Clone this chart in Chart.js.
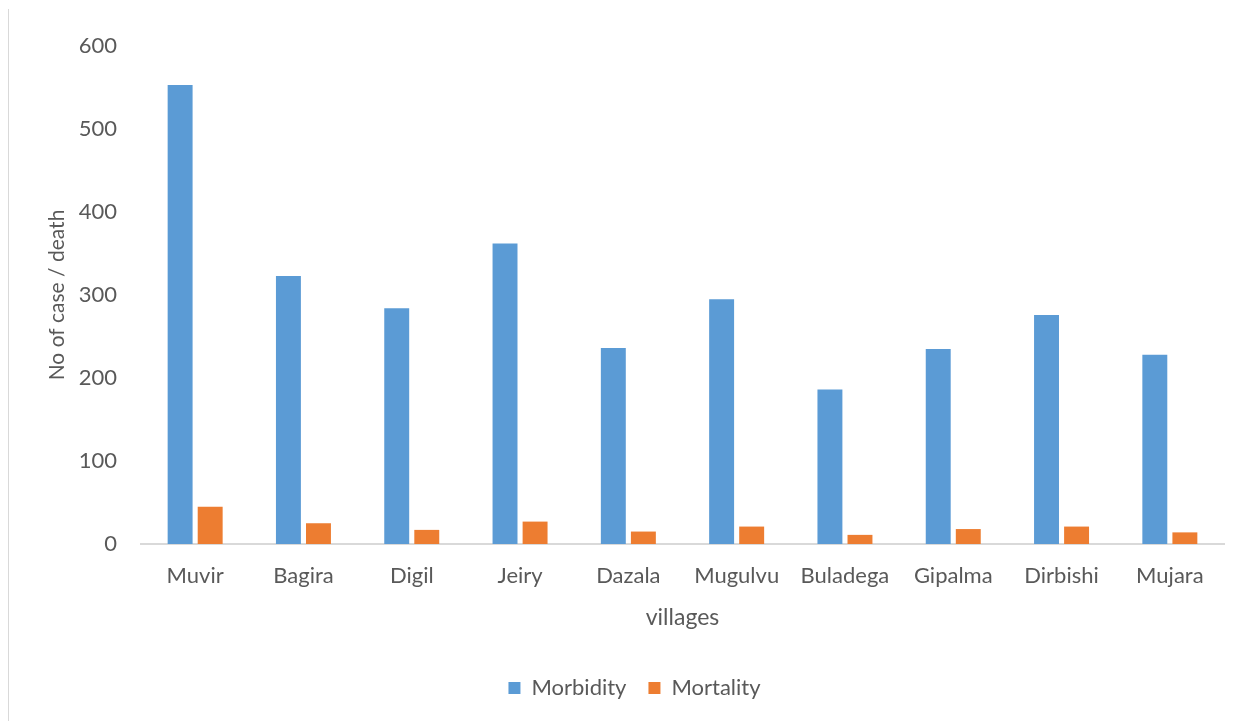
<!DOCTYPE html>
<html>
<head>
<meta charset="utf-8">
<script src="https://cdn.jsdelivr.net/npm/chart.js@4/dist/chart.umd.min.js"></script>
<style>
  html, body { margin: 0; padding: 0; background: #fff; }
  #wrap { position: relative; width: 1248px; height: 721px; }
  #frame { position: absolute; left: 8px; top: 9px; bottom: 0; border-left: 1px solid #d9d9d9; }
</style>
</head>
<body>
<div id="wrap">
  <div id="frame"></div>
  <canvas id="myChart" width="1248" height="721"></canvas>
</div>
<script>
const villages = ['Muvir', 'Bagira', 'Digil', 'Jeiry', 'Dazala', 'Mugulvu', 'Buladega', 'Gipalma', 'Dirbishi', 'Mujara'];
const morbidity = [553, 323, 284, 362, 236, 295, 186, 235, 276, 228];
const mortality = [45, 25, 17, 27, 15, 21, 11, 18, 21, 14];
const yTicks = [0, 100, 200, 300, 400, 500, 600];

const textColor = '#595959';
const fontFamily = 'Lato, "Open Sans", sans-serif';

const ctx = document.getElementById('myChart').getContext('2d');

const data = {
  labels: villages,
  datasets: [{
    label: 'Morbidity',
    data: morbidity,
    backgroundColor: '#5b9bd5',
    categoryPercentage: 0.555,
    barPercentage: 0.83
  }, {
    label: 'Mortality',
    data: mortality,
    backgroundColor: '#ed7d31',
    categoryPercentage: 0.555,
    barPercentage: 0.83
  }]
};

const config = {
  type: 'bar',
  data: data,
  options: {
    responsive: false,
    animation: false,
    layout: {
      padding: { left: 45, right: 24, top: 46, bottom: 12 }
    },
    plugins: {
      legend: {
        position: 'bottom',
        labels: {
          color: textColor,
          font: { family: fontFamily, size: 22 },
          boxWidth: 12,
          boxHeight: 12,
          padding: 22
        }
      },
      tooltip: { enabled: false }
    },
    scales: {
      x: {
        grid: { display: false, drawTicks: false },
        border: { color: '#d9d9d9', width: 2 },
        ticks: {
          color: textColor,
          font: { family: fontFamily, size: 22 },
          padding: 19,
          maxRotation: 0
        },
        title: {
          display: true,
          text: 'villages',
          color: textColor,
          font: { family: fontFamily, size: 23 },
          padding: { top: -5, bottom: 24 }
        }
      },
      y: {
        min: 0,
        max: 600,
        grid: { display: false, drawTicks: false },
        border: { display: false },
        afterBuildTicks: (scale) => {
          scale.ticks = yTicks.map(v => ({ value: v }));
        },
        afterFit: (scale) => {
          scale.width = 96;
        },
        ticks: {
          color: textColor,
          font: { family: fontFamily, size: 22 },
          padding: 24
        },
        title: {
          display: true,
          text: 'No of case / death',
          color: textColor,
          font: { family: fontFamily, size: 21 },
          padding: { top: 0, bottom: 4 }
        }
      }
    }
  }
};

const myChart = new Chart(ctx, config);
</script>
</body>
</html>
